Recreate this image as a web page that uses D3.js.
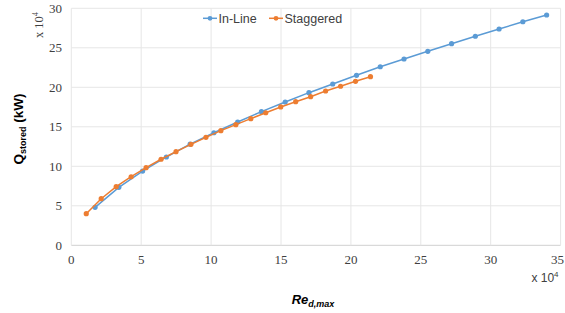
<!DOCTYPE html>
<html><head><meta charset="utf-8">
<script src="https://cdn.jsdelivr.net/npm/d3@7"></script>
<style>body{margin:0;background:#fff}svg{display:block}</style>
</head><body>
<svg id="c" width="565" height="313"></svg>
<script>
// Data (x in units of 10^4, y in units of 10^4 kW)
const inlineX = [1.7,3.4,5.1,6.8,8.5,10.2,11.9,13.6,15.3,17.0,18.7,20.4,22.1,23.8,25.5,27.2,28.9,30.6,32.3,34.0];
const inlineY = [4.81,7.34,9.4,11.18,12.8,14.25,15.61,16.92,18.14,19.32,20.42,21.52,22.6,23.58,24.56,25.52,26.46,27.38,28.3,29.15];
const staggX = [1.07,2.14,3.21,4.28,5.35,6.42,7.49,8.56,9.63,10.7,11.77,12.84,13.91,14.98,16.05,17.12,18.19,19.26,20.33,21.4];
const staggY = [4.0,5.9,7.42,8.68,9.82,10.89,11.85,12.78,13.67,14.51,15.27,16.03,16.78,17.51,18.18,18.81,19.53,20.13,20.76,21.34];
const xTicks = [0,5,10,15,20,25,30,35];
const yTicks = [0,5,10,15,20,25,30];
const seriesNames = ["In-Line","Staggered"];
const colors = ["#5b9bd5","#ed7d31"];

const svg = d3.select("#c");
const x = d3.scaleLinear().domain([0,35]).range([71.3,560.6]);
const y = d3.scaleLinear().domain([0,30]).range([245.3,8.3]);

// grid
svg.append("g").selectAll("line").data(yTicks).join("line")
  .attr("x1",x(0)).attr("x2",x(35)).attr("y1",d=>y(d)).attr("y2",d=>y(d))
  .attr("stroke",d=>d===0?"#d0d0d0":"#e6e6e6").attr("stroke-width",1);
svg.append("g").selectAll("line").data(xTicks).join("line")
  .attr("y1",y(0)).attr("y2",y(30)).attr("x1",d=>x(d)).attr("x2",d=>x(d))
  .attr("stroke","#e6e6e6").attr("stroke-width",1);

// axes labels
const serif = "'Liberation Serif','Times New Roman',serif";
const sans = "'Liberation Sans',Arial,sans-serif";
svg.append("g").selectAll("text").data(yTicks).join("text")
  .attr("x",62).attr("y",d=>y(d)+4.5).attr("text-anchor","end")
  .attr("font-family",serif).attr("font-size",13).attr("fill","#404040").text(d=>d);
svg.append("g").selectAll("text").data(xTicks).join("text")
  .attr("x",d=>d===35?564:x(d)).attr("y",264).attr("text-anchor",d=>d===35?"end":"middle")
  .attr("font-family",serif).attr("font-size",13).attr("fill","#404040").text(d=>d);

// x 10^4 labels
const ty = svg.append("text").attr("transform","translate(43,25) rotate(-90)")
  .attr("text-anchor","middle").attr("font-family",serif).attr("font-size",12.5).attr("fill","#404040");
ty.append("tspan").text("x 10");
ty.append("tspan").attr("dy",-5).attr("font-size",8.5).text("4");
const tx = svg.append("text").attr("x",545).attr("y",282)
  .attr("text-anchor","middle").attr("font-family",sans).attr("font-size",12).attr("fill","#404040");
tx.append("tspan").text("x 10");
tx.append("tspan").attr("dy",-5).attr("font-size",8).text("4");

// axis titles
const yt = svg.append("text").attr("transform","translate(23,129) rotate(-90)")
  .attr("text-anchor","middle").attr("font-family",sans).attr("font-weight","bold").attr("font-size",13.5).attr("fill","#000");
yt.append("tspan").text("Q");
yt.append("tspan").attr("dy",3).attr("font-size",9).text("stored");
yt.append("tspan").attr("dy",-3).text(" (kW)");
const xt = svg.append("text").attr("x",313).attr("y",304)
  .attr("text-anchor","middle").attr("font-family",sans).attr("font-weight","bold").attr("font-style","italic").attr("font-size",13).attr("fill","#000");
xt.append("tspan").text("Re");
xt.append("tspan").attr("dy",3).attr("font-size",9).text("d,max");

// series
const series = [
  {xs:inlineX, ys:inlineY},
  {xs:staggX, ys:staggY}
];
const line = d3.line().x(d=>x(d[0])).y(d=>y(d[1]));
series.forEach((s,i)=>{
  const pts = s.xs.map((v,j)=>[v,s.ys[j]]);
  svg.append("path").datum(pts).attr("d",line).attr("fill","none")
    .attr("stroke",colors[i]).attr("stroke-width",1.5);
  svg.append("g").selectAll("circle").data(pts).join("circle")
    .attr("cx",d=>x(d[0])).attr("cy",d=>y(d[1])).attr("r",2.6).attr("fill",colors[i]);
});

// legend
const legX = [203,269];
const legG = svg.append("g");
seriesNames.forEach((n,i)=>{
  legG.append("line").attr("x1",legX[i]).attr("x2",legX[i]+14).attr("y1",18.3).attr("y2",18.3)
    .attr("stroke",colors[i]).attr("stroke-width",1.5);
  legG.append("circle").attr("cx",legX[i]+7).attr("cy",18.3).attr("r",2.4).attr("fill",colors[i]);
  legG.append("text").attr("x",legX[i]+15.5).attr("y",22.8).attr("font-family",sans)
    .attr("font-size",12.5).attr("fill","#404040").text(n);
});
</script>
</body></html>
